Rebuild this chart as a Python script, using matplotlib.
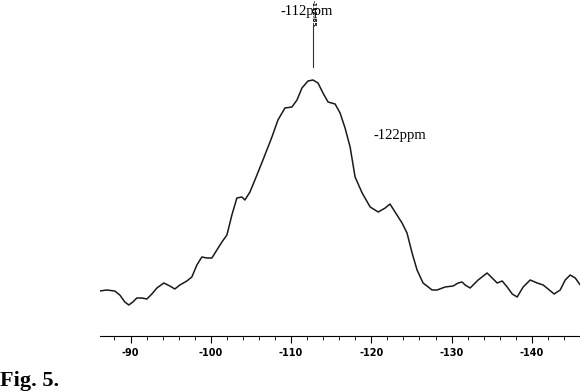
import matplotlib
matplotlib.use("Agg")
import matplotlib.pyplot as plt
from matplotlib.ticker import MultipleLocator

ppm = [-86.17, -87.04, -88.04, -88.67, -89.29, -89.79, -90.29, -90.79, -91.41, -92.04,
       -92.66, -93.29, -94.15, -94.90, -95.52, -96.15, -97.02, -97.64, -98.27, -98.89,
       -99.51, -100.14, -100.76, -101.39, -102.01, -102.63, -103.25, -103.88, -104.25,
       -104.88, -105.50, -106.50, -107.62, -108.37, -109.24, -110.11, -110.74, -111.36,
       -112.11, -112.73, -113.36, -113.98, -114.61, -115.49, -116.11, -116.73, -117.36,
       -117.98, -118.86, -119.86, -120.86, -121.73, -122.33, -122.96, -123.83, -124.45,
       -125.08, -125.70, -126.45, -127.57, -128.19, -129.19, -130.19, -130.82, -131.31,
       -131.69, -132.31, -133.31, -134.43, -135.06, -135.68, -136.31, -136.93, -137.56,
       -138.17, -138.92, -139.79, -140.67, -141.41, -142.03, -142.78, -143.53, -144.16,
       -144.78, -145.41, -146.03]
intensity = [45, 46, 45, 41, 34, 31, 34, 38, 38, 37,
             42, 48, 53, 50, 47, 51, 55, 59, 71, 79,
             78, 78, 86, 94, 101, 121, 138, 139, 136,
             144, 156, 176, 199, 216, 228, 229, 236, 248,
             255, 256, 253, 243, 234, 232, 223, 208, 189,
             159, 143, 129, 124, 128, 132, 124, 113, 103,
             83, 66, 53, 46, 46, 49, 50, 53, 54,
             51, 48, 56, 63, 58, 53, 55, 49, 42,
             39, 49, 56, 53, 51, 47, 42, 46, 56,
             61, 58, 51]
major_ticks = [-90, -100, -110, -120, -130, -140]
peak_main = -112.75
peak_label_main = "-112ppm"
peak_label_second = "-122ppm"

fig = plt.figure(figsize=(5.8, 3.91), dpi=100)
ax = fig.add_axes([100/580, 55/391, 480/580, 336/391])
ax.plot(ppm, intensity, color="#1a1a1a", lw=1.1, solid_joinstyle="round")
ax.set_xlim(-86.2, -146.0)
ax.set_ylim(0, 336)
for s in ["top", "left", "right"]:
    ax.spines[s].set_visible(False)
ax.spines["bottom"].set_linewidth(0.8)
ax.set_yticks([])
ax.set_xticks(major_ticks)
ax.set_xticklabels([str(t) for t in major_ticks], fontsize=7, fontweight="bold",
                   family="DejaVu Sans")
ax.xaxis.set_minor_locator(MultipleLocator(2))
ax.tick_params(axis="x", which="major", direction="out", length=5, width=0.8, pad=4)
ax.tick_params(axis="x", which="minor", direction="out", length=3, width=0.6)

# peak marker
ax.plot([peak_main, peak_main], [269, 310], color="#333333", lw=0.8, clip_on=False)
ax.text(peak_main, 336, "-112.85", rotation=270, fontsize=4.5, fontweight="bold",
        ha="center", va="top", family="DejaVu Sans")
ax.text(-111.9, 324, peak_label_main, fontsize=10.5, family="Liberation Serif",
        ha="center", va="center")
ax.text(-123.5, 201, peak_label_second, fontsize=10.5, family="Liberation Serif",
        ha="center", va="center")

fig.text(0.0, 10/391, "Fig. 5.", fontsize=16, fontweight="bold",
         family="Liberation Serif", ha="left", va="center")

fig.savefig("out.png", dpi=100)
